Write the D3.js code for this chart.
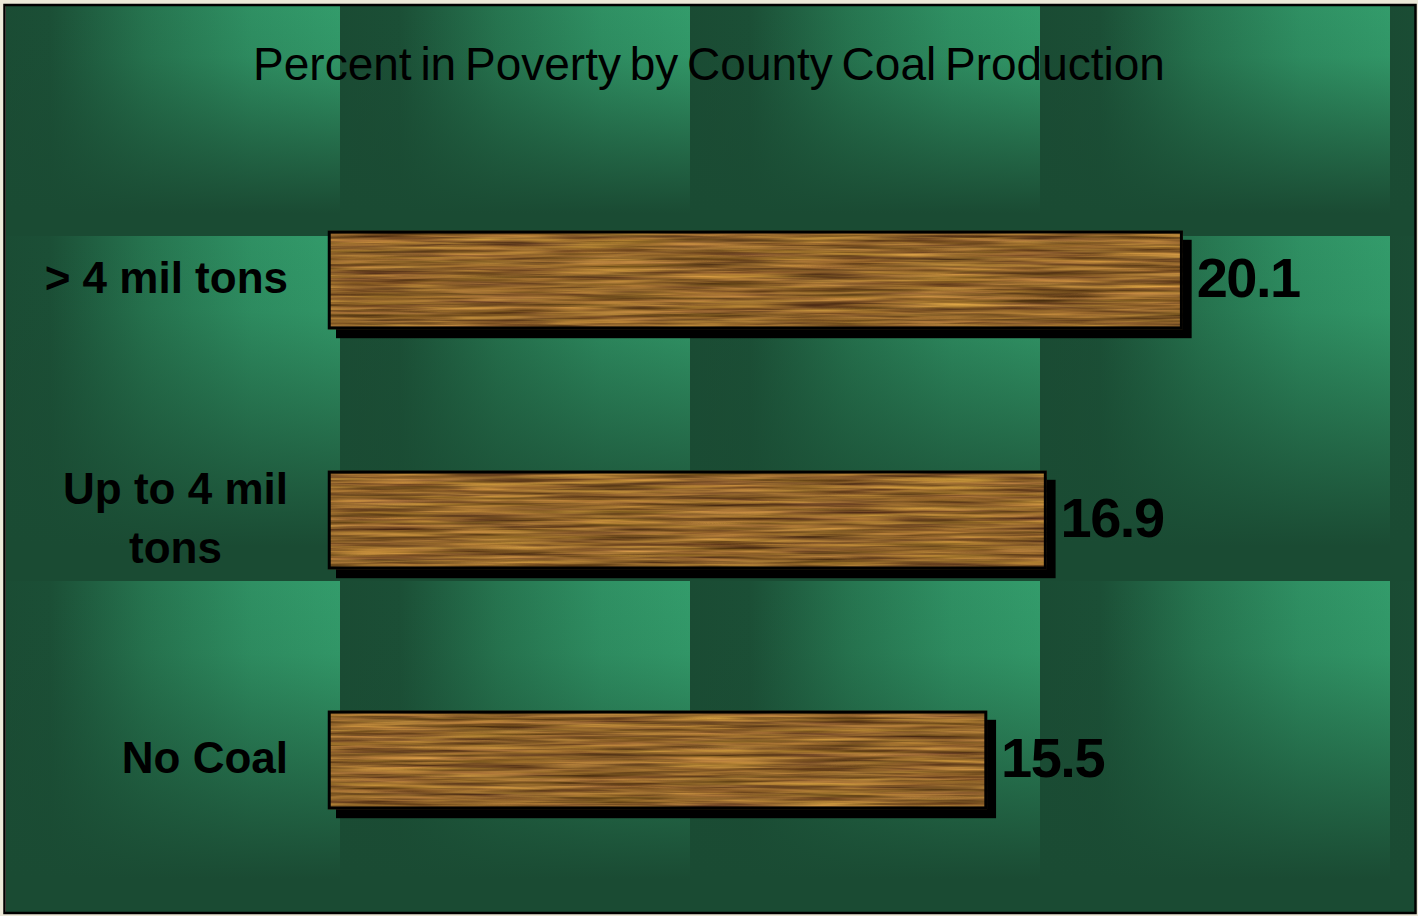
<!DOCTYPE html>
<html>
<head>
<meta charset="utf-8">
<script src="https://cdn.jsdelivr.net/npm/d3@7"></script>
<style>
  html, body { margin: 0; padding: 0; background: #ece9d8; }
  svg { display: block; }
  text { font-family: "Liberation Sans", Arial, sans-serif; }
</style>
</head>
<body>
<div id="chart"></div>
<script>
'use strict';

// chart data
var title = 'Percent in Poverty by County Coal Production';
var categories = ['> 4 mil tons', 'Up to 4 mil tons', 'No Coal'];
var categoryLines = [['> 4 mil tons'], ['Up to 4 mil', 'tons'], ['No Coal']];
var values = [20.1, 16.9, 15.5];
var valueLabels = ['20.1', '16.9', '15.5'];

var width = 1418;
var height = 916;

var svg = d3.select('#chart').append('svg')
  .attr('width', width)
  .attr('height', height);

var defs = svg.append('defs');

// green tile gradients: dark on the left -> bright on the right,
// then darkened towards the bottom
var hGrad = defs.append('linearGradient')
  .attr('id', 'tileH')
  .attr('x1', 0).attr('y1', 0).attr('x2', 1).attr('y2', 0);
hGrad.append('stop').attr('offset', 0).attr('stop-color', '#1a4b33');
hGrad.append('stop').attr('offset', 0.17).attr('stop-color', '#1b4f36');
hGrad.append('stop').attr('offset', 0.45).attr('stop-color', '#26744f');
hGrad.append('stop').attr('offset', 0.75).attr('stop-color', '#2f9063');
hGrad.append('stop').attr('offset', 1).attr('stop-color', '#339c6b');

var vGrad = defs.append('linearGradient')
  .attr('id', 'tileV')
  .attr('x1', 0).attr('y1', 0).attr('x2', 0).attr('y2', 1);
vGrad.append('stop').attr('offset', 0).attr('stop-color', '#1a4b33').attr('stop-opacity', 0);
vGrad.append('stop').attr('offset', 0.22).attr('stop-color', '#1a4b33').attr('stop-opacity', 0.08);
vGrad.append('stop').attr('offset', 0.6).attr('stop-color', '#1a4b33').attr('stop-opacity', 0.6);
vGrad.append('stop').attr('offset', 0.9).attr('stop-color', '#1a4b33').attr('stop-opacity', 1);
vGrad.append('stop').attr('offset', 1).attr('stop-color', '#1a4b33').attr('stop-opacity', 1);

// wood grain texture for the bars
var wood = defs.append('filter')
  .attr('id', 'wood')
  .attr('x', 0).attr('y', 0).attr('width', 1).attr('height', 1)
  .attr('color-interpolation-filters', 'sRGB');
wood.append('feTurbulence')
  .attr('type', 'fractalNoise')
  .attr('baseFrequency', '0.009 0.28')
  .attr('numOctaves', 3)
  .attr('seed', 7)
  .attr('result', 'noise');
wood.append('feColorMatrix')
  .attr('in', 'noise')
  .attr('type', 'matrix')
  .attr('values',
    '0.75 0.1 0 0 0.14 ' +
    '0.6 0.14 0 0 0.02 ' +
    '0.28 0 0.05 0 0.0 ' +
    '0 0 0 0 1')
  .attr('result', 'col');
wood.append('feComposite')
  .attr('in', 'col').attr('in2', 'SourceGraphic').attr('operator', 'in');

// frame + tiled background
var inner = {x0: 6, y0: 6, x1: 1415, y1: 912};
defs.append('clipPath').attr('id', 'frameClip')
  .append('rect')
  .attr('x', inner.x0).attr('y', inner.y0)
  .attr('width', inner.x1 - inner.x0).attr('height', inner.y1 - inner.y0);

var colStarts = d3.range(-10, width, 350);
var rowEdges = [inner.y0, 236, 581, inner.y1];
var tiles = [];
colStarts.forEach(function(cx) {
  for (var r = 0; r < rowEdges.length - 1; r++) {
    tiles.push({x: cx, y: rowEdges[r], w: 350, h: rowEdges[r + 1] - rowEdges[r]});
  }
});

var bg = svg.append('g').attr('clip-path', 'url(#frameClip)');
bg.selectAll('rect.th').data(tiles).enter().append('rect')
  .attr('class', 'th')
  .attr('x', function(d){ return d.x; })
  .attr('y', function(d){ return d.y; })
  .attr('width', function(d){ return d.w; })
  .attr('height', function(d){ return d.h; })
  .attr('fill', 'url(#tileH)');
bg.selectAll('rect.tv').data(tiles).enter().append('rect')
  .attr('class', 'tv')
  .attr('x', function(d){ return d.x; })
  .attr('y', function(d){ return d.y; })
  .attr('width', function(d){ return d.w; })
  .attr('height', function(d){ return d.h; })
  .attr('fill', 'url(#tileV)');

svg.append('rect')
  .attr('x', 4.5).attr('y', 5)
  .attr('width', 1411).attr('height', 908)
  .attr('fill', 'none')
  .attr('stroke', '#000')
  .attr('stroke-width', 2.5);

// scales
var xScale = d3.scaleLinear().domain([0, 25]).range([328, 1391]);
var yScale = d3.scaleBand()
  .domain(categories)
  .range([160, 880])
  .paddingInner(0.59)
  .paddingOuter(0.295);

var rows = categories.map(function(c, i) {
  return {cat: c, lines: categoryLines[i], value: values[i], label: valueLabels[i]};
});

var bars = svg.append('g');

// shadows
bars.selectAll('rect.shadow').data(rows).enter().append('rect')
  .attr('class', 'shadow')
  .attr('x', xScale(0) + 8)
  .attr('y', function(d){ return yScale(d.cat) + 9; })
  .attr('width', function(d){ return xScale(d.value) - xScale(0) + 1; })
  .attr('height', yScale.bandwidth())
  .attr('fill', '#000');

// wood fill
bars.selectAll('rect.bar').data(rows).enter().append('rect')
  .attr('class', 'bar')
  .attr('x', xScale(0))
  .attr('y', function(d){ return yScale(d.cat); })
  .attr('width', function(d){ return xScale(d.value) - xScale(0); })
  .attr('height', yScale.bandwidth())
  .attr('fill', '#a06a3a')
  .attr('filter', 'url(#wood)');

// outline
bars.selectAll('rect.outline').data(rows).enter().append('rect')
  .attr('class', 'outline')
  .attr('x', xScale(0) + 1.25)
  .attr('y', function(d){ return yScale(d.cat) + 1.25; })
  .attr('width', function(d){ return xScale(d.value) - xScale(0) - 2.5; })
  .attr('height', yScale.bandwidth() - 2.5)
  .attr('fill', 'none')
  .attr('stroke', '#000')
  .attr('stroke-width', 3);

// value labels
svg.selectAll('text.value').data(rows).enter().append('text')
  .attr('class', 'value')
  .attr('x', function(d){ return xScale(d.value) + 14; })
  .attr('y', function(d){ return yScale(d.cat) + yScale.bandwidth() / 2 + 17; })
  .attr('font-size', 56)
  .attr('font-weight', 'bold')
  .attr('letter-spacing', -1.5)
  .attr('fill', '#000')
  .text(function(d){ return d.label; });

// category labels: block right-aligned, lines centred within block
var lineH = 59;
var catText = svg.selectAll('text.cat').data(rows).enter().append('text')
  .attr('class', 'cat')
  .attr('font-size', 44)
  .attr('font-weight', 'bold')
  .attr('text-anchor', 'middle')
  .attr('fill', '#000');

catText.each(function(d) {
  var t = d3.select(this);
  var cy = yScale(d.cat) + yScale.bandwidth() / 2;
  var first = cy + 13 - (d.lines.length - 1) * lineH / 2;
  var spans = t.selectAll('tspan').data(d.lines).enter().append('tspan')
    .attr('y', function(l, i){ return first + i * lineH; })
    .text(function(l){ return l; });
  var maxW = 0;
  spans.each(function(){ maxW = Math.max(maxW, this.getComputedTextLength()); });
  spans.attr('x', 288 - maxW / 2);
});

// title
svg.append('text')
  .attr('x', 709)
  .attr('y', 80)
  .attr('text-anchor', 'middle')
  .attr('font-size', 46)
  .attr('word-spacing', -4)
  .attr('fill', '#000')
  .text(title);
</script>
</body>
</html>
